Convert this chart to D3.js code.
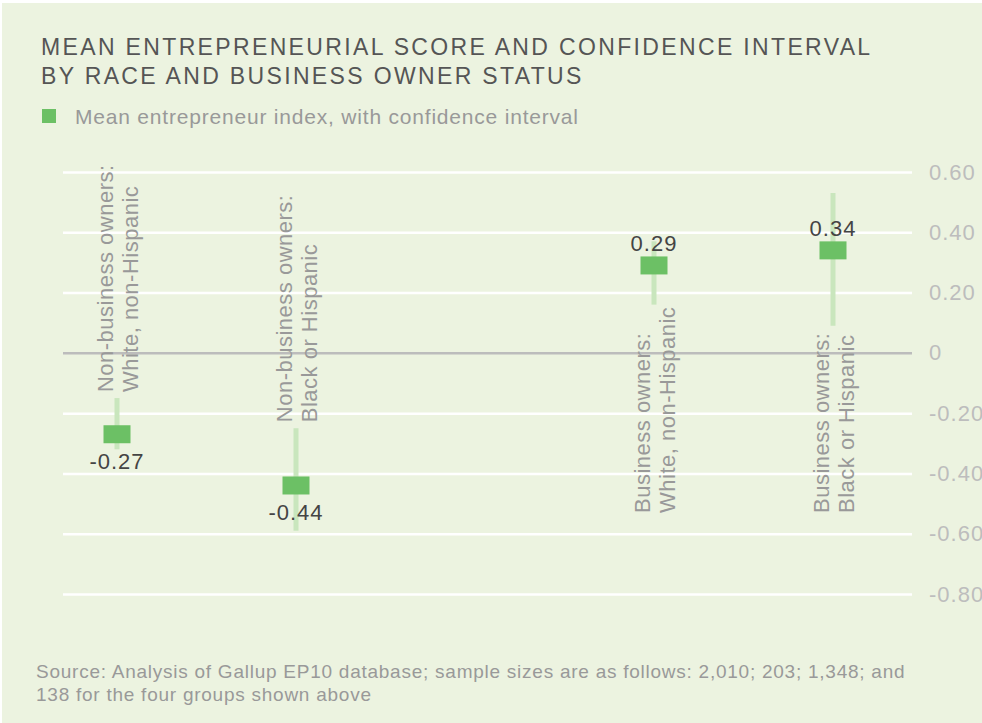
<!DOCTYPE html>
<html>
<head>
<meta charset="utf-8">
<script src="https://cdn.jsdelivr.net/npm/d3@7"></script>
<style>
  body { margin: 0; background: #fff; }
  svg { display: block; font-family: "Liberation Sans", Arial, Helvetica, sans-serif; }
</style>
</head>
<body>
<svg id="chart" width="982" height="723"></svg>
<script>
// data
const groups = ['nbWhite', 'nbBlack', 'gap', 'bWhite', 'bBlack'];
const labelLines = [
	['Non-business owners:', 'White, non-Hispanic'],
	['Non-business owners:', 'Black or Hispanic'],
	['Business owners:', 'White, non-Hispanic'],
	['Business owners:', 'Black or Hispanic']
];
const means = [-0.27, -0.44, 0.29, 0.34];
const ciLow = [-0.32, -0.59, 0.16, 0.09];
const ciHigh = [-0.15, -0.25, 0.37, 0.53];
const meanLabels = ['-0.27', '-0.44', '0.29', '0.34'];
const yTicks = [0.6, 0.4, 0.2, 0, -0.2, -0.4, -0.6, -0.8];
const yTickLabels = ['0.60', '0.40', '0.20', '0', '-0.20', '-0.40', '-0.60', '-0.80'];

const data = means.map((m, i) => ({
	key: groups.filter(g => g !== 'gap')[i],
	mean: m, lo: ciLow[i], hi: ciHigh[i],
	label: meanLabels[i], lines: labelLines[i]
}));

let svg = d3.select('#chart');

// panel background
svg.append('rect')
	.attr('x', 2).attr('y', 3)
	.attr('width', 980).attr('height', 720)
	.attr('fill', '#ecf3e0');

// title
let title = svg.append('text')
	.attr('x', 41).attr('y', 55)
	.attr('fill', '#555')
	.style('font-size', '23px')
	.style('letter-spacing', '2.35px');
title.append('tspan').attr('x', 41).text('MEAN ENTREPRENEURIAL SCORE AND CONFIDENCE INTERVAL');
title.append('tspan').attr('x', 41).attr('dy', 29).text('BY RACE AND BUSINESS OWNER STATUS');

// legend
svg.append('rect')
	.attr('x', 42).attr('y', 109)
	.attr('width', 14).attr('height', 14)
	.attr('fill', '#6cc065');
svg.append('text')
	.attr('x', 75).attr('y', 124)
	.attr('fill', '#999')
	.style('font-size', '21px')
	.style('letter-spacing', '0.8px')
	.text('Mean entrepreneur index, with confidence interval');

// scales
let xScale = d3.scalePoint()
	.domain(groups)
	.range([117, 833]);

let yScale = d3.scaleLinear()
	.domain([-0.8, 0.6])
	.range([594, 172]);

// y axis on the right, ticks stretched into grid lines
let yAxis = svg.append('g')
	.attr('transform', 'translate(912, 0)')
	.call(
		d3.axisRight(yScale)
			.tickValues(yTicks)
			.tickFormat((d, i) => yTickLabels[i])
			.tickSize(-849)
			.tickPadding(17)
	);
yAxis.select('.domain').remove();
yAxis.selectAll('.tick line')
	.attr('stroke', d => d === 0 ? '#bcbcbc' : '#fff')
	.attr('stroke-width', 2.5);
yAxis.selectAll('.tick text')
	.attr('fill', '#bdbdbd')
	.style('font-size', '22px')
	.style('letter-spacing', '1px')
	.style('font-family', '"Liberation Sans", Arial, Helvetica, sans-serif');

let marks = svg.append('g').attr('class', 'marks');

// confidence intervals
marks.selectAll('line.ci')
	.data(data)
	.enter()
	.append('line')
		.attr('class', 'ci')
		.attr('x1', d => xScale(d.key))
		.attr('x2', d => xScale(d.key))
		.attr('y1', d => yScale(d.hi))
		.attr('y2', d => yScale(d.lo))
		.attr('stroke', '#c9e6bd')
		.attr('stroke-width', 5);

// mean markers
marks.selectAll('rect.mean')
	.data(data)
	.enter()
	.append('rect')
		.attr('class', 'mean')
		.attr('x', d => xScale(d.key) - 13.5)
		.attr('y', d => yScale(d.mean) - 9)
		.attr('width', 27)
		.attr('height', 18)
		.attr('fill', '#6cc065');

// value labels
marks.selectAll('text.value')
	.data(data)
	.enter()
	.append('text')
		.attr('class', 'value')
		.attr('x', d => xScale(d.key))
		.attr('y', d => d.mean < 0 ? yScale(d.mean) + 35 : yScale(d.mean) - 14)
		.attr('text-anchor', 'middle')
		.attr('fill', '#444')
		.style('font-size', '22px')
		.style('letter-spacing', '1px')
		.text(d => d.label);

// category labels, rotated
let catLabels = svg.append('g').selectAll('text.cat')
	.data(data)
	.enter()
	.append('text')
		.attr('class', 'cat')
		.attr('transform', d => {
			let y0 = d.mean < 0 ? yScale(d.hi) - 6 : 513;
			return 'translate(' + xScale(d.key) + ',' + y0 + ') rotate(-90)';
		})
		.attr('fill', '#999')
		.style('font-size', '22px')
		.style('letter-spacing', '0.5px');

catLabels.selectAll('tspan')
	.data(d => d.lines)
	.enter()
	.append('tspan')
		.attr('x', 0)
		.attr('y', (d, i) => i === 0 ? -4 : 21)
		.text(d => d);

// source note
let note = svg.append('text')
	.attr('x', 36).attr('y', 678)
	.attr('fill', '#999')
	.style('font-size', '19px')
	.style('letter-spacing', '0.75px');
note.append('tspan').attr('x', 36)
	.text('Source: Analysis of Gallup EP10 database; sample sizes are as follows: 2,010; 203; 1,348; and');
note.append('tspan').attr('x', 36).attr('dy', 23)
	.text('138 for the four groups shown above');
</script>
</body>
</html>
